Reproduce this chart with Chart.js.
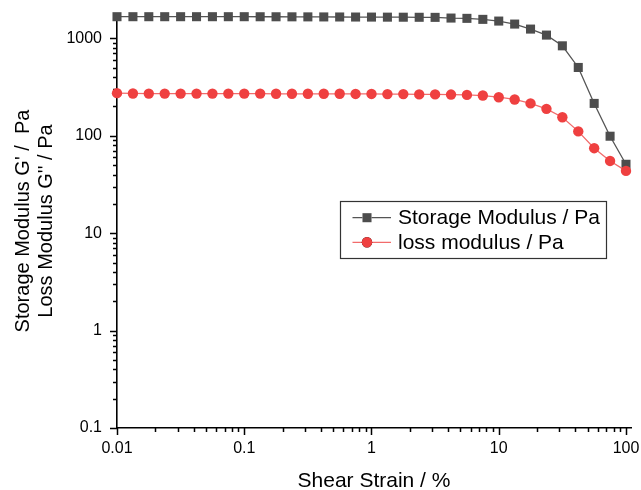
<!DOCTYPE html>
<html>
<head>
<meta charset="utf-8">
<script src="https://cdn.jsdelivr.net/npm/chart.js@4.4.1/dist/chart.umd.min.js"></script>
<style>
html,body{margin:0;padding:0;background:#fff;}
#wrap{width:641px;height:490px;position:relative;}
</style>
</head>
<body>
<div id="wrap"><canvas id="c" width="641" height="490"></canvas></div>
<script>
// ---- data ----
const strain = [0.01, 0.01334, 0.01778, 0.02371, 0.03162, 0.04217, 0.05623, 0.07499,
  0.1, 0.1334, 0.1778, 0.2371, 0.3162, 0.4217, 0.5623, 0.7499,
  1, 1.334, 1.778, 2.371, 3.162, 4.217, 5.623, 7.499,
  10, 13.34, 17.78, 23.71, 31.62, 42.17, 56.23, 74.99, 100];
const storageModulus = [1670, 1670, 1670, 1670, 1670, 1670, 1670, 1670,
  1670, 1668, 1667, 1665, 1663, 1661, 1659, 1657,
  1655, 1652, 1650, 1647, 1644, 1617, 1606, 1568,
  1506, 1403, 1246, 1081, 839, 503, 215, 99, 51];
const lossModulus = [274, 272, 271, 271, 271, 271, 271, 271,
  271, 271, 270, 270, 270, 270, 270, 269,
  269, 268, 268, 266, 266, 265, 263, 259,
  249, 236, 215, 189, 155, 111, 74.6, 55.2, 43.6];
const seriesNames = ['Storage Modulus / Pa', 'loss modulus / Pa'];
const xTickValues = [0.01, 0.1, 1, 10, 100];
const xTickLabels = ['0.01', '0.1', '1', '10', '100'];
const yTickValues = [0.1, 1, 10, 100, 1000];
const yTickLabels = ['0.1', '1', '10', '100', '1000'];
const xTitle = 'Shear Strain / %';
const yTitle = ["Storage Modulus G' /  Pa", "Loss Modulus G'' / Pa"];

const FONT = "'Liberation Sans', Arial, Helvetica, sans-serif";

function toPoints(xs, ys){ return xs.map((x,i)=>({x:x, y:ys[i]})); }

// minor ticks + major ticks drawn outward
const tickPlugin = {
  id: 'logTicks',
  beforeDatasetsDraw(chart){
    const ctx = chart.ctx;
    const xs = chart.scales.x, ys = chart.scales.y;
    const area = chart.chartArea;
    ctx.save();
    ctx.strokeStyle = '#000';
    ctx.lineWidth = 1.5;
    const majLen = 7, minLen = 4;
    function decadeMinors(majors, min, max){
      const out = [];
      const lo = majors[0] / 10;
      for (let d = lo; d <= max; d *= 10){
        for (let m = 2; m <= 9; m++){
          const v = d * m;
          if (v >= min && v <= max) out.push(v);
        }
      }
      return out;
    }
    ctx.beginPath();
    xTickValues.forEach(v=>{
      const p = Math.round(xs.getPixelForValue(v)) + 0.5;
      ctx.moveTo(p, area.bottom); ctx.lineTo(p, area.bottom + majLen);
    });
    decadeMinors(xTickValues, xs.min, xs.max).forEach(v=>{
      const p = Math.round(xs.getPixelForValue(v)) + 0.5;
      ctx.moveTo(p, area.bottom); ctx.lineTo(p, area.bottom + minLen);
    });
    yTickValues.forEach(v=>{
      const p = Math.round(ys.getPixelForValue(v)) + 0.5;
      ctx.moveTo(area.left, p); ctx.lineTo(area.left - majLen, p);
    });
    decadeMinors(yTickValues, ys.min, ys.max).forEach(v=>{
      const p = Math.round(ys.getPixelForValue(v)) + 0.5;
      ctx.moveTo(area.left, p); ctx.lineTo(area.left - minLen, p);
    });
    ctx.stroke();
    ctx.restore();
  }
};

// legend box inside the plot
const legendPlugin = {
  id: 'boxLegend',
  afterDatasetsDraw(chart){
    const ctx = chart.ctx;
    const box = {x: 340.5, y: 201.5, w: 266, h: 57};
    ctx.save();
    ctx.fillStyle = '#fff';
    ctx.fillRect(box.x, box.y, box.w, box.h);
    ctx.strokeStyle = '#333';
    ctx.lineWidth = 1.2;
    ctx.strokeRect(box.x, box.y, box.w, box.h);
    const rows = [217.7, 242.3];
    chart.data.datasets.forEach((ds, i)=>{
      const y = rows[i];
      ctx.strokeStyle = ds.borderColor;
      ctx.lineWidth = ds.borderWidth;
      ctx.beginPath();
      ctx.moveTo(352.5, y); ctx.lineTo(391, y);
      ctx.stroke();
      Chart.helpers.drawPoint(ctx, {
        pointStyle: ds.pointStyle, radius: ds.pointRadius, borderWidth: 0, rotation: 0
      }, 367, y);
      ctx.fillStyle = ds.pointBackgroundColor;
      ctx.fill();
      ctx.fillStyle = '#000';
      ctx.font = '21px ' + FONT;
      ctx.textBaseline = 'middle';
      ctx.textAlign = 'left';
      ctx.fillText(ds.label, 398, y + 1);
    });
    ctx.restore();
  }
};

new Chart(document.getElementById('c'), {
  type: 'line',
  data: {
    datasets: [
      {
        label: seriesNames[0],
        data: toPoints(strain, storageModulus),
        borderColor: '#555555',
        borderWidth: 1.3,
        pointStyle: 'rect',
        pointRadius: 6.4,
        pointBackgroundColor: '#4d4d4d',
        pointBorderColor: '#4d4d4d',
        pointBorderWidth: 0,
        clip: false,
        order: 2
      },
      {
        label: seriesNames[1],
        data: toPoints(strain, lossModulus),
        borderColor: '#f26b6b',
        borderWidth: 1.3,
        pointStyle: 'circle',
        pointRadius: 5.2,
        pointBackgroundColor: '#ef4040',
        pointBorderColor: '#ef4040',
        pointBorderWidth: 0,
        clip: false,
        order: 1
      }
    ]
  },
  options: {
    responsive: false,
    animation: false,
    devicePixelRatio: 1,
    layout: { padding: { left: 0, right: 10, top: 14, bottom: 0 } },
    plugins: { legend: { display: false }, tooltip: { enabled: false } },
    elements: { line: { tension: 0 } },
    scales: {
      x: {
        type: 'logarithmic',
        min: 0.01,
        max: 109.5,
        grid: { display: false, drawTicks: false },
        border: { display: true, color: '#000', width: 1.6 },
        ticks: {
          padding: 11,
          autoSkip: false,
          maxRotation: 0,
          color: '#000',
          font: { family: FONT, size: 16 },
          callback: function(v){ const i = xTickValues.indexOf(v); return i >= 0 ? xTickLabels[i] : ''; }
        },
        afterBuildTicks: function(s){ s.ticks = xTickValues.map(v=>({value:v})); },
        afterFit: function(s){ s.height = 62; s.paddingLeft = 0; s.paddingRight = 0; },
        title: {
          display: true,
          text: xTitle,
          color: '#000',
          font: { family: FONT, size: 21, lineHeight: 0.8 },
          padding: { top: 0, bottom: 0 }
        }
      },
      y: {
        type: 'logarithmic',
        min: 0.1,
        max: 1780,
        grid: { display: false, drawTicks: false },
        border: { display: true, color: '#000', width: 1.6 },
        ticks: {
          padding: 15,
          autoSkip: false,
          color: '#000',
          font: { family: FONT, size: 16 },
          callback: function(v){ const i = yTickValues.indexOf(v); return i >= 0 ? yTickLabels[i] : ''; }
        },
        afterBuildTicks: function(s){ s.ticks = yTickValues.map(v=>({value:v})); },
        afterFit: function(s){ s.width = 117; s.paddingTop = 0; s.paddingBottom = 0; },
        title: {
          display: true,
          text: yTitle,
          color: '#000',
          font: { family: FONT, size: 20, lineHeight: 1.15 },
          padding: { top: 12, bottom: 0 }
        }
      }
    }
  },
  plugins: [tickPlugin, legendPlugin]
});
</script>
</body>
</html>
